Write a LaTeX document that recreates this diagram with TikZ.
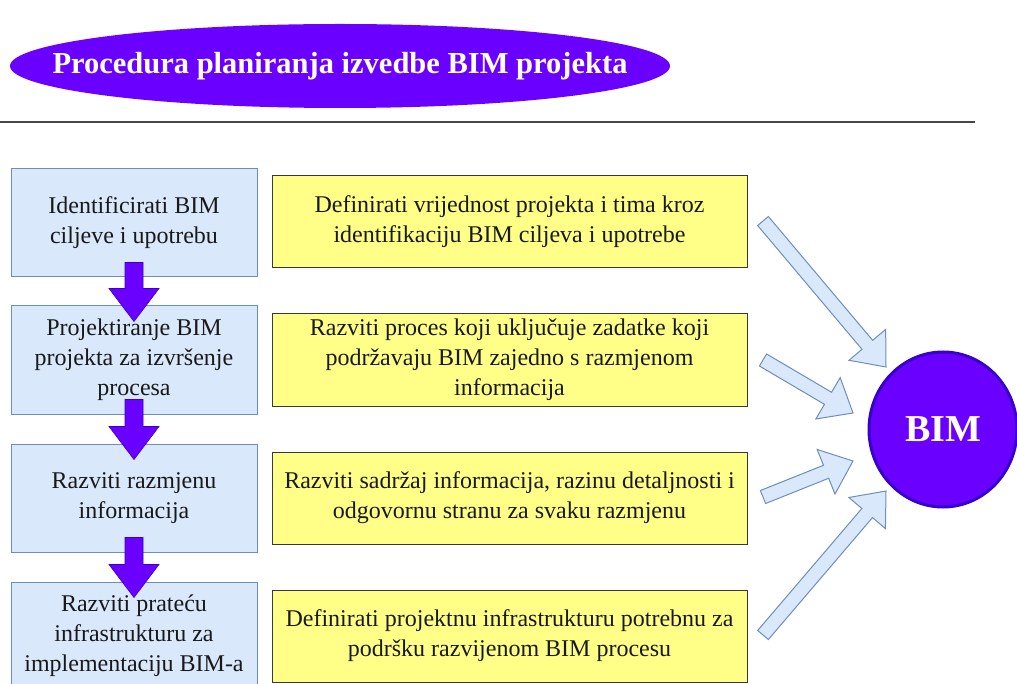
\documentclass[tikz,border=0pt]{standalone}
\usepackage{fontspec}
\setmainfont{Liberation Serif}
\usetikzlibrary{calc,shapes.geometric}
\definecolor{violetF}{HTML}{6A00FF}
\definecolor{violetD}{HTML}{3700CC}
\definecolor{blueF}{HTML}{DAE8FC}
\definecolor{blueD}{HTML}{6C8EBF}
\definecolor{yelF}{HTML}{FFFF88}
\definecolor{yelD}{HTML}{36393D}
\newcommand{\blockarr}[6]{%
  \coordinate (#1h) at ($(#2)!#5!(#1)$);
  \draw[#6] ($(#1)!#3!90:(#2)$) -- ($(#1h)!#3!90:(#2)$) -- ($(#1h)!#4!90:(#2)$) -- (#2)
    -- ($(#1h)!#4!-90:(#2)$) -- ($(#1h)!#3!-90:(#2)$) -- ($(#1)!#3!-90:(#2)$) -- cycle;
}
\tikzset{
  stepbox/.style={draw=blueD, fill=blueF, line width=1pt, minimum width=246pt, minimum height=108pt,
    align=center, inner sep=0pt, font=\fontsize{24}{30}\selectfont, text=black!90},
  descbox/.style={draw=yelD, fill=yelF, line width=1pt, minimum width=475pt, minimum height=92pt,
    align=center, inner sep=0pt, font=\fontsize{24}{30}\selectfont, text=black!90},
  downarrow/.style={fill=violetF, draw=violetD, line width=0.6pt},
  flexarrow/.style={fill=blueF, draw=blueD, line width=1pt, line join=miter},
}
\begin{document}
\begin{tikzpicture}[x=1pt,y=-1pt]
\useasboundingbox (0,0) rectangle (1017,684);
% title
\node[ellipse, fill=violetF, draw=none, minimum width=660pt, minimum height=84pt, inner sep=0pt] (titlebg) at (340,66) {};
\node[text=white, font=\fontsize{30.5}{36}\selectfont\bfseries, inner sep=0pt] (title) at (titlebg.center) {Procedura planiranja izvedbe BIM projekta};
\coordinate (rl) at (0,122);
\coordinate (rr) at (975,122);
\draw[line width=1.5pt, black!72] (rl) -- (rr);
% left steps
\node[stepbox] (b1) at (134,223) {Identificirati BIM\\ciljeve i upotrebu};
\node[stepbox] (b2) at (134,360) {Projektiranje BIM\\projekta za izvršenje\\procesa};
\node[stepbox] (b3) at (134,498) {Razviti razmjenu\\informacija};
\node[stepbox] (b4) at (134,636) {Razviti prateću\\infrastrukturu za\\implementaciju BIM-a};
% descriptions
\node[descbox] (y1) at (509.5,222) {Definirati vrijednost projekta i tima kroz\\identifikaciju BIM ciljeva i upotrebe};
\node[descbox] (y2) at (509.5,360) {Razviti proces koji uključuje zadatke koji\\podržavaju BIM zajedno s razmjenom\\informacija};
\node[descbox] (y3) at (509.5,498) {Razviti sadržaj informacija, razinu detaljnosti i\\odgovornu stranu za svaku razmjenu};
\node[descbox] (y4) at (509.5,636) {Definirati projektnu infrastrukturu potrebnu za\\podršku razvijenom BIM procesu};
% BIM circle
\node[ellipse, fill=violetF, draw=violetD, line width=3pt, minimum width=148pt, minimum height=155pt, inner sep=0pt,
  text=white, font=\fontsize{38}{44}\selectfont\bfseries] (bim) at (943,429.5) {BIM};
% purple down arrows
\coordinate (p1a) at ($(b1.south)+(0,-15)$); \coordinate (p1b) at ($(b2.north)+(0,16)$);
\coordinate (p2a) at ($(b2.south)+(0,-15)$); \coordinate (p2b) at ($(b3.north)+(0,16)$);
\coordinate (p3a) at ($(b3.south)+(0,-15)$); \coordinate (p3b) at ($(b4.north)+(0,16)$);
\blockarr{p1a}{p1b}{9pt}{25pt}{33pt}{downarrow}
\blockarr{p2a}{p2b}{9pt}{25pt}{33pt}{downarrow}
\blockarr{p3a}{p3b}{9pt}{25pt}{33pt}{downarrow}
% light blue arrows to BIM
\coordinate (f1a) at (763,221); \coordinate (f1b) at (886,367);
\coordinate (f2a) at (763,360); \coordinate (f2b) at (853,413);
\coordinate (f3a) at (763,497); \coordinate (f3b) at (853,461);
\coordinate (f4a) at (763,635); \coordinate (f4b) at (886,491);
\blockarr{f1a}{f1b}{7pt}{24pt}{29pt}{flexarrow}
\blockarr{f2a}{f2b}{7pt}{24pt}{29pt}{flexarrow}
\blockarr{f3a}{f3b}{7pt}{24pt}{29pt}{flexarrow}
\blockarr{f4a}{f4b}{7pt}{24pt}{29pt}{flexarrow}
\end{tikzpicture}
\end{document}
